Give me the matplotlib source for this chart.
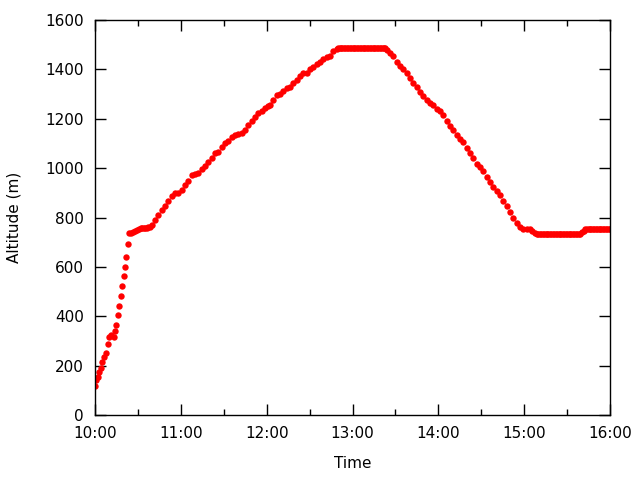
import matplotlib
matplotlib.use("Agg")
import matplotlib.pyplot as plt
from matplotlib.ticker import MultipleLocator

# minutes after 10:00 and altitude (m)
climb_t = [0.0, 0.7, 2.3, 3.0, 4.4, 5.1, 6.5, 7.9, 9.3, 10.0, 11.4, 13.5, 14.2,
           14.9, 16.3, 17.0, 18.4, 19.1, 20.5, 21.2, 21.9, 23.3, 24.0]
climb_alt = [117, 140, 154, 173, 190, 213, 235, 250, 286, 315, 323, 315, 339,
             363, 404, 440, 481, 521, 562, 598, 639, 691, 736]

shelf_t = [25.2, 26.6, 28.0, 29.4, 30.8, 31.9, 32.9, 34.0, 35.1, 36.2, 37.3, 38.4]
shelf_alt = [738, 740, 745, 750, 755, 757, 759, 759, 759, 759, 760, 761]

up_t = [39.6, 41.9, 44.2, 46.6, 48.9, 51.2, 53.6, 55.9, 58.2, 60.6, 62.9, 65.2,
        67.6, 69.9, 72.2, 74.6, 76.9, 79.2, 81.6, 83.9, 86.2, 88.6, 90.9, 93.2,
        95.6, 97.9, 100.2, 102.5, 104.9, 107.2, 109.5, 111.8, 114.2, 116.5,
        118.8, 121.1, 122.3, 124.6, 127.0, 129.3, 131.6, 134.0, 136.3, 138.6,
        141.0, 143.3, 145.6, 148.0, 150.3, 152.6, 155.0, 157.3, 159.6, 162.0,
        164.3, 166.6, 169.0]
up_alt = [769, 790, 810, 830, 848, 867, 887, 898, 898, 911, 932, 948,
          972, 976, 979, 995, 1008, 1026, 1043, 1060, 1066, 1084, 1100, 1111,
          1125, 1134, 1138, 1141, 1154, 1175, 1192, 1206, 1224, 1231,
          1242, 1250, 1256, 1276, 1296, 1300, 1313, 1323, 1330, 1343,
          1357, 1373, 1384, 1387, 1400, 1411, 1422, 1431, 1441, 1449,
          1454, 1475, 1481]

top_t = list(range(170, 204))
top_alt = [1486] * len(top_t)

down_t = [203.9, 206.2, 208.5, 210.9, 213.2, 215.5, 217.9, 220.2, 222.5, 224.9,
          227.2, 229.5, 231.9, 234.2, 236.5, 238.9, 241.2, 243.5, 245.9, 248.2,
          250.5, 252.9, 255.1, 257.5, 259.9, 262.1, 264.5, 266.8, 269.1, 271.4,
          273.8, 276.1, 278.4, 280.8, 283.1, 285.4, 287.8, 290.1, 292.4, 294.8,
          297.1, 299.4, 301.8, 304.1, 305.8, 307.6]
down_alt = [1478, 1465, 1454, 1431, 1413, 1400, 1384, 1364, 1343, 1327,
            1310, 1292, 1276, 1265, 1256, 1239, 1233, 1215, 1192, 1170,
            1154, 1134, 1120, 1107, 1080, 1060, 1040, 1017, 1003, 989,
            965, 945, 925, 908, 891, 868, 847, 823, 797, 776,
            760, 753, 753, 752, 745, 738]

low_t = list(range(309, 340))
low_alt = [735] * len(low_t)

end_t = [340.5, 341.5, 342.6] + list(range(344, 361))
end_alt = [740, 746, 752] + [755] * 17

xtick_pos = [0, 60, 120, 180, 240, 300, 360]
xtick_labels = ["10:00", "11:00", "12:00", "13:00", "14:00", "15:00", "16:00"]

t = climb_t + shelf_t + up_t + top_t + down_t + low_t + end_t
alt = climb_alt + shelf_alt + up_alt + top_alt + down_alt + low_alt + end_alt

plt.rcParams['font.family'] = ['DejaVu Sans']
plt.rcParams['font.size'] = 11

fig = plt.figure(figsize=(6.4, 4.8), dpi=100)
ax = fig.add_axes([95/640, 65/480, 515/640, 395/480])
ax.plot(t, alt, linestyle='none', marker='o', markersize=4.6,
        markeredgewidth=0, color='#ff0000')

ax.set_xlim(0, 360)
ax.set_ylim(0, 1600)
ax.set_xticks(xtick_pos)
ax.set_xticklabels(xtick_labels)
ax.xaxis.set_minor_locator(MultipleLocator(30))
ax.yaxis.set_major_locator(MultipleLocator(200))
ax.tick_params(which='both', direction='in', top=True, right=True, width=1)
ax.tick_params(which='major', length=8, pad=8)
ax.tick_params(which='minor', length=4)
for s in ax.spines.values():
    s.set_linewidth(1)

ax.set_xlabel("Time", labelpad=11)
ax.set_ylabel("Altitude (m)", labelpad=17)

fig.savefig("out.png", dpi=100)
